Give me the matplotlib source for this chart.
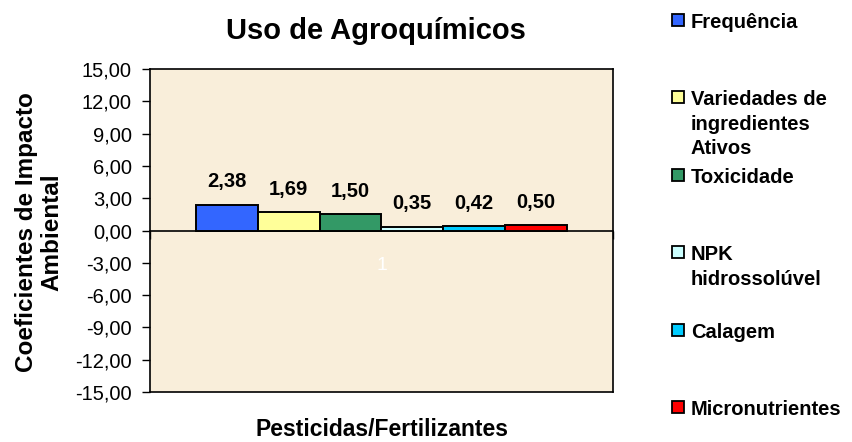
import matplotlib
matplotlib.use("Agg")
import matplotlib.pyplot as plt
from matplotlib.patches import Rectangle
import numpy as np

series = ["Frequência", "Variedades de\ningredientes\nAtivos", "Toxicidade",
          "NPK\nhidrossolúvel", "Calagem", "Micronutrientes"]
values = [2.38, 1.69, 1.50, 0.35, 0.42, 0.50]
value_labels = ["2,38", "1,69", "1,50", "0,35", "0,42", "0,50"]
colors = ["#3366FF", "#FFFF99", "#339966", "#CCFFFF", "#00CCFF", "#FF0000"]
yticks = [-15, -12, -9, -6, -3, 0, 3, 6, 9, 12, 15]
ytick_labels = ["-15,00", "-12,00", "-9,00", "-6,00", "-3,00", "0,00",
                "3,00", "6,00", "9,00", "12,00", "15,00"]
category = "1"

plt.rcParams['font.family'] = ['Liberation Sans', 'DejaVu Sans']

fig = plt.figure(figsize=(8.53, 4.42), dpi=100)
ax = fig.add_axes([0.1758, 0.1131, 0.5428, 0.7308])
ax.set_facecolor("#F9EEDA")

n = len(values)
group = 0.801
w = group / n
x = (np.arange(n) - (n - 1) / 2) * w
bars = ax.bar(x, values, width=w, color=colors, edgecolor="black", linewidth=1.4, zorder=3)

for xi, v, lab in zip(x, values, value_labels):
    ax.annotate(lab, (xi, v), xytext=(0, 16.5), textcoords="offset points",
                ha="center", va="center", fontsize=14.5, fontweight="bold", zorder=4)

ax.set_xlim(-0.5, 0.5)
ax.set_ylim(-15, 15)
ax.set_yticks(yticks)
ax.set_yticklabels(ytick_labels, fontsize=14.5)
ax.tick_params(axis="y", direction="out", length=6, width=1, pad=7)
ax.set_xticks([])
for s in ax.spines.values():
    s.set_linewidth(1.2)

# zero-line category axis
sec = ax.secondary_xaxis(0.5)
sec.set_alignment("bottom")
sec.spines['bottom'].set_linewidth(1.2)
sec.set_xticks([-0.5, 0.5])
sec.set_xticklabels(["", ""])
sec.tick_params(direction="out", length=6, width=1)
sec.set_xticks([0], minor=True)
sec.set_xticklabels([category], minor=True, color="white", fontsize=14)
sec.tick_params(which="minor", length=0, pad=19)

fig.text(375.5 / 853, 1 - 31 / 442, "Uso de Agroquímicos", fontsize=21,
         fontweight="bold", ha="center", va="center")
fig.text(382 / 853, 1 - 430 / 442, "Pesticidas/Fertilizantes", fontsize=16.5,
         fontweight="bold", ha="center", va="center")
fig.text(39 / 853, 1 - 232 / 442, "Coeficientes de Impacto\nAmbiental", fontsize=17.5,
         fontweight="bold", ha="center", va="center", rotation=90, linespacing=1.15)

# legend
slot = 77.4
for i, (name, c) in enumerate(zip(series, colors)):
    ytop = 20 + i * slot
    yf = 1 - ytop / 442
    fig.patches.append(Rectangle((672 / 853, yf - 6 / 442), 12 / 853, 12 / 442,
                                 transform=fig.transFigure, facecolor=c,
                                 edgecolor="black", linewidth=1.3))
    fig.text(691 / 853, yf + 7 / 442, name, fontsize=14.5, fontweight="bold", va="top",
             ha="left", linespacing=1.36)

fig.savefig("out.png", dpi=100)
